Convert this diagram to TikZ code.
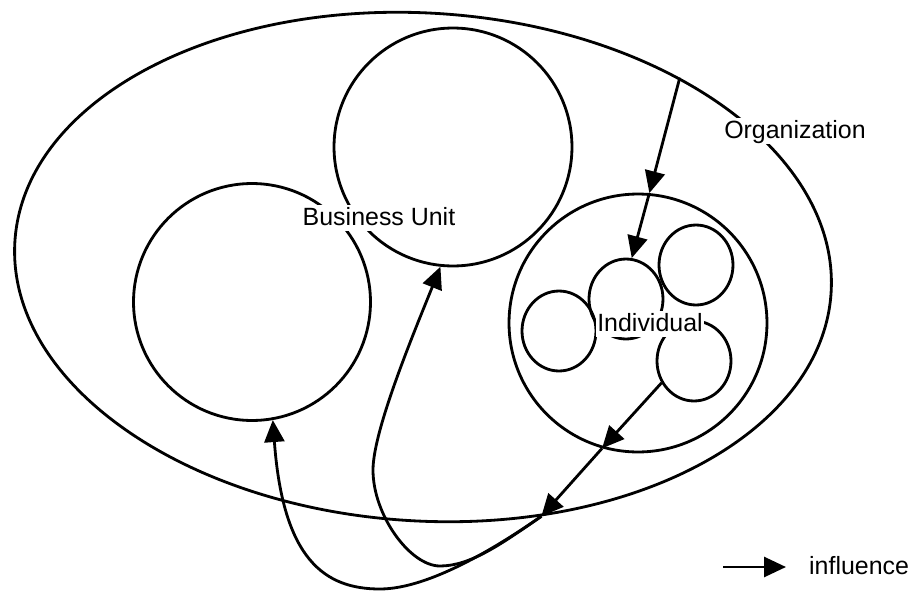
\documentclass[tikz,border=0pt]{standalone}
\usepackage{fontspec}
\setmainfont{Liberation Sans}
\usetikzlibrary{arrows.meta,shapes.geometric,positioning}

\begin{document}
\begin{tikzpicture}[x=0.02cm,y=-0.02cm,line width=1.6pt,
    >={Triangle[length=0.44cm,width=0.4cm]},
    bucircle/.style={circle,draw,inner sep=0pt,minimum size=#1},
    person/.style={ellipse,draw,inner sep=0pt,minimum width=1.48cm,minimum height=1.6cm},
    tagbox/.style={fill=white,inner xsep=1pt,inner ysep=1.5pt,text height=10pt,text depth=2pt,
                   font=\fontsize{14.2pt}{17pt}\selectfont}]

  \useasboundingbox (0,0) rectangle (914,592);

  \node[ellipse,draw,inner sep=0pt,minimum width=16.36cm,minimum height=10.16cm,rotate=-3.6]
                            (org) at (423,267) {};
  \node[bucircle=4.76cm]    (bu)  at (453,147) {};
  \node[bucircle=4.74cm]    (bu2) at (252,302) {};
  \node[bucircle=5.16cm]    (grp) at (638,323) {};
  \node[person]             (p1)  at (626,299) {};
  \node[person]             (p2)  at (696,265) {};
  \node[person]             (p3)  at (559,331) {};
  \node[person]             (p4)  at (694,361) {};

  \path [->]
        (org.40)   edge (grp.85)
        (grp.85)   edge (p1.82)
        (p4.-146)  edge (grp.-106)
        (grp.-106) edge (org.-61);

  % influence back up to the business units
  \draw [->] (org.-61) .. controls (500,545) and (470,566) .. (440,566)
                       .. controls (410,566) and (373,515) .. (373,470)
                       .. controls (373,430) and (415,330) .. (bu.-96);
  \draw [->] (org.-61) .. controls (500,545) and (430,589) .. (380,589)
                       .. controls (325,589) and (283,560) .. (bu2.-80);

  \node[tagbox] (orgT) at (795,131) {Organization};
  \node[tagbox] (buT)  at (379,218) {Business Unit};
  \node[tagbox] (indT) at (650,324) {Individual};

  % legend
  \coordinate (lgA) at (723,567);
  \coordinate (lgB) at (786,567);
  \draw [->] (lgA) -- (lgB);
  \node[tagbox] (infl) [right=0.4cm of lgB] {influence};
\end{tikzpicture}
\end{document}
